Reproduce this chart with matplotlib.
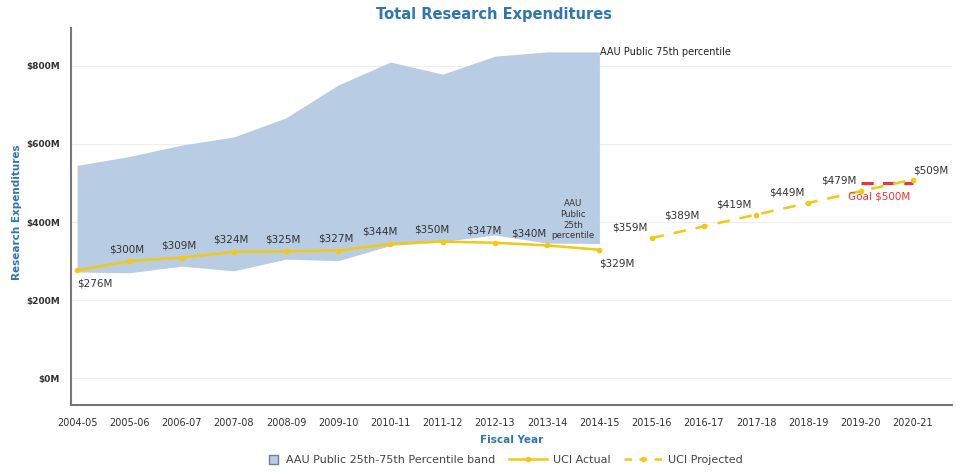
import matplotlib
matplotlib.use("Agg")
import matplotlib.pyplot as plt
from matplotlib.lines import Line2D
from matplotlib.patches import Patch, Rectangle
from matplotlib.legend_handler import HandlerPatch

years = ["2004-05", "2005-06", "2006-07", "2007-08", "2008-09", "2009-10", "2010-11",
         "2011-12", "2012-13", "2013-14", "2014-15", "2015-16", "2016-17", "2017-18",
         "2018-19", "2019-20", "2020-21"]
band_upper = [545, 568, 597, 618, 667, 751, 810, 779, 825, 836, 836]
band_lower = [272, 270, 287, 275, 305, 301, 340, 350, 367, 346, 345]
actual = [276, 300, 309, 324, 325, 327, 344, 350, 347, 340, 329]
projected = [359, 389, 419, 449, 479, 509]
goal = [500, 500]
yticks = [0, 200, 400, 600, 800]

blue = "#2E75B6"
band_c = "#B8CCE4"
yellow = "#F2C811"
red = "#F0323C"
txt = "#333333"

fig = plt.figure(figsize=(9.56, 4.76), dpi=100)
ax = fig.add_axes([0.0743, 0.149, 0.9215, 0.792])

xa = list(range(len(actual)))
xp = list(range(len(actual), len(actual) + len(projected)))
xg = [xp[-2], xp[-1]]

ax.fill_between(xa, band_lower, band_upper, color=band_c, lw=0, zorder=1)
ax.plot(xa, actual, color=yellow, lw=1.8, marker="o", ms=3, zorder=3)
ax.plot(xp, projected, color=yellow, lw=1.8, ls=(0, (5, 4)), marker="o", ms=3, zorder=3)
ax.plot(xg, goal, color=red, lw=2.2, ls=(0, (4, 3)), zorder=2)

ax.set_xlim(-0.115, 16.75)
ax.set_ylim(-69, 897)
ax.set_xticks(range(len(years)))
ax.set_xticklabels(years, fontsize=7, color=txt)
ax.set_yticks(yticks)
ax.set_yticklabels([f"${v}M" for v in yticks], fontsize=6.5, color=txt, fontweight="bold")
ax.tick_params(length=0, pad=8)
ax.tick_params(axis="x", pad=9)
ax.grid(axis="y", color="#EEEEEE", lw=0.8)
ax.set_axisbelow(True)
for s in ["top", "right"]:
    ax.spines[s].set_visible(False)
for s in ["left", "bottom"]:
    ax.spines[s].set_color("#777777")
    ax.spines[s].set_linewidth(1.5)

# labels for actual
for i, v in enumerate(actual):
    if i == 0 or i == len(actual) - 1:
        ax.annotate(f"${v}M", (i, v), xytext=(0, -6), textcoords="offset points",
                    ha="left", va="top", fontsize=7.5, color=txt)
    else:
        dx = -13 if i == len(actual) - 2 else (-8 if i >= 6 else -2)
        ax.annotate(f"${v}M", (i, v), xytext=(dx, 5), textcoords="offset points",
                    ha="center", va="bottom", fontsize=7.5, color=txt)
for j, v in enumerate(projected):
    x = xp[j]
    if j == len(projected) - 1:
        ax.annotate(f"${v}M", (x, v), xytext=(0, 3), textcoords="offset points",
                    ha="left", va="bottom", fontsize=7.5, color=txt)
    else:
        ax.annotate(f"${v}M", (x, v), xytext=(-3, 4), textcoords="offset points",
                    ha="right", va="bottom", fontsize=7.5, color=txt)

ax.text(xa[-1] + 0.02, band_upper[-1], "AAU Public 75th percentile", fontsize=7,
        color="#222222", ha="left", va="center")
ax.text(xa[-1] - 0.5, band_lower[-1] + 8, "AAU\nPublic\n25th\npercentile", fontsize=6.2,
        color="#333333", ha="center", va="bottom", linespacing=1.25)
ax.text(xg[0] + 0.35, goal[0] - 22, "Goal $500M", fontsize=7.5, color=red,
        ha="center", va="top")

ax.set_xlabel("Fiscal Year", fontsize=7.5, color=blue, fontweight="bold")
ax.xaxis.set_label_coords(0.5, -0.08)
fig.text(17 / 956, 0.555, "Research Expenditures", fontsize=7.5, color=blue,
         fontweight="bold", rotation=90, ha="center", va="center")
fig.text(0.517, 0.97, "Total Research Expenditures", fontsize=10.5, color=blue,
         fontweight="bold", ha="center", va="center")


def square_patch(legend, orig_handle, xdescent, ydescent, width, height, fontsize):
    s = height * 1.15
    return Rectangle((width - s - xdescent - 2, -ydescent - (s - height) / 2), s, s)


handles = [Patch(facecolor=band_c, edgecolor="#6A7F99", lw=1),
           Line2D([0], [0], color=yellow, lw=1.8, marker="o", ms=3),
           Line2D([0], [0], color=yellow, lw=1.8, ls=(0, (3, 3)), marker="o", ms=3)]
labels = ["AAU Public 25th-75th Percentile band", "UCI Actual", "UCI Projected"]
fig.legend(handles, labels, loc="center", bbox_to_anchor=(0.515, 0.033), ncol=3,
           frameon=False, fontsize=8, handlelength=3.5, columnspacing=1.2,
           labelcolor="#444444", handletextpad=0.5,
           handler_map={Patch: HandlerPatch(patch_func=square_patch)})

fig.savefig("out.png", dpi=100)
